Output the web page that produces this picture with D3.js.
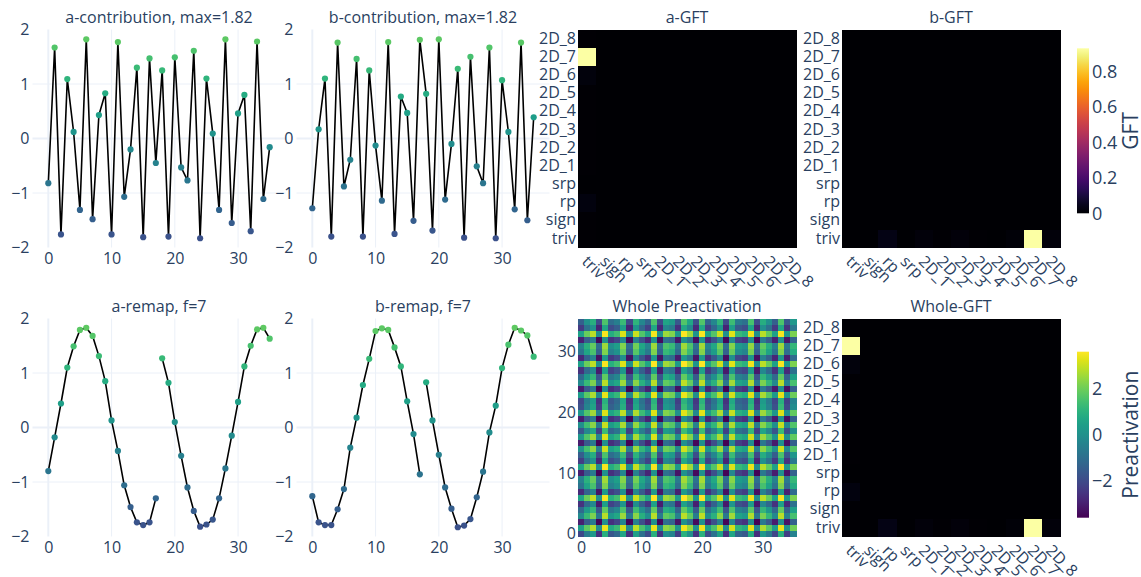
<!DOCTYPE html>
<html>
<head>
<meta charset="utf-8">
<script src="https://cdn.jsdelivr.net/npm/d3@7"></script>
<style>
	body { margin: 0; background: #fff; }
	text { font-family: "Open Sans", sans-serif; }
</style>
</head>
<body>
<svg id="chart" width="1141" height="577"></svg>
<script>

// values
var aContrib = [-0.82, 1.67, -1.76, 1.09, 0.12, -1.31, 1.82, -1.48, 0.43, 0.83, -1.76, 1.77,
	-1.07, -0.20, 1.30, -1.81, 1.47, -0.45, 1.25, -1.80, 1.49, -0.53, -0.77, 1.61,
	-1.83, 1.10, 0.09, -1.31, 1.82, -1.55, 0.46, 0.80, -1.70, 1.78, -1.11, -0.16];

var bContrib = [-1.28, 0.17, 1.10, -1.80, 1.76, -0.88, -0.39, 1.46, -1.80, 1.25, -0.13, -1.14,
	1.77, -1.75, 0.77, 0.47, -1.51, 1.81, 0.82, -1.69, 1.82, -1.12, -0.10, 1.28,
	-1.82, 1.50, -0.51, -0.82, 1.67, -1.83, 1.07, 0.12, -1.30, 1.76, -1.50, 0.39];

var aRemap = [-0.80, -0.18, 0.44, 1.10, 1.49, 1.79, 1.83, 1.68, 1.31, 0.85, 0.13, -0.43,
	-1.06, -1.46, -1.74, -1.79, -1.74, -1.30, 1.27, 0.82, 0.10, -0.52, -1.10, -1.53,
	-1.82, -1.78, -1.69, -1.30, -0.75, -0.15, 0.47, 1.12, 1.50, 1.80, 1.83, 1.63];

var bRemap = [-1.26, -1.74, -1.79, -1.79, -1.50, -1.13, -0.37, 0.18, 0.78, 1.26, 1.77, 1.82,
	1.79, 1.47, 1.12, 0.48, -0.12, -0.86, 0.83, 0.13, -0.50, -1.10, -1.49, -1.83,
	-1.80, -1.68, -1.28, -0.81, -0.09, 0.40, 1.09, 1.52, 1.83, 1.78, 1.69, 1.30];

// the remapped series is split in two pieces at this index
var remapBreak = 18;

var irreps = ['triv', 'sign', 'rp', 'srp', '2D_1', '2D_2', '2D_3', '2D_4', '2D_5', '2D_6', '2D_7', '2D_8'];

// GFT: a-GFT only has a 'triv' column, b-GFT only a 'triv' row
var aGftTriv = [0.005, 0.004, 0.025, 0.003, 0.004, 0.004, 0.005, 0.005, 0.004, 0.02, 0.93, 0.006];
var bGftTriv = [0.003, 0.002, 0.035, 0.003, 0.018, 0.004, 0.015, 0.004, 0.003, 0.012, 0.93, 0.018];
var wholeGftCol = [0.004, 0.004, 0.025, 0.003, 0.004, 0.004, 0.005, 0.005, 0.004, 0.02, 0.93, 0.006];
var wholeGftRow = [0.004, 0.002, 0.035, 0.003, 0.018, 0.004, 0.015, 0.004, 0.003, 0.012, 0.93, 0.018];

var gftTicks = [0, 0.2, 0.4, 0.6, 0.8];
var preTicks = [-2, 0, 2];
var lineXTicks = [0, 10, 20, 30];
var lineYTicks = [-2, -1, 0, 1, 2];

var svg = d3.select('#chart');

var fontColor = '#2a3f5f';
var gridColor = '#ebf0f8';

var colLeft = [32.5, 296.5, 560.5, 824.5];
var colW = 253;
var rowTop = [29.5, 318.5];
var rowH = 218;

var preColor = d3.scaleSequential(d3.interpolateViridis).domain([-3.64, 3.64]);
var gftColor = d3.scaleSequential(d3.interpolateInferno).domain([0, 0.93]);

var fmt = d3.format('~g');

var subTitle = function (cx, top, txt) {
	svg.append('text')
		.attr('x', cx)
		.attr('y', top - 7)
		.attr('text-anchor', 'middle')
		.attr('font-size', 16)
		.attr('fill', fontColor)
		.text(txt);
}

var styleAxis = function (g, size) {
	g.select('.domain').remove();
	g.attr('font-size', size)
		.attr('font-family', '"Open Sans", sans-serif')
		.style('color', fontColor);
}

var linePanel = function (col, row, values, name, split) {
	var x0 = colLeft[col], y0 = rowTop[row];
	var x = d3.scaleLinear().domain([-2.5, 37.5]).range([x0, x0 + colW]);
	var y = d3.scaleLinear().domain([-2, 2]).range([y0 + rowH, y0]);
	var g = svg.append('g');

	g.selectAll('line.gx')
		.data(lineXTicks)
		.enter()
		.append('line')
		.attr('x1', function (d) { return x(d); })
		.attr('x2', function (d) { return x(d); })
		.attr('y1', y0)
		.attr('y2', y0 + rowH)
		.attr('stroke', gridColor)
		.attr('stroke-width', function (d) { return d === 0 ? 2 : 1; });

	g.selectAll('line.gy')
		.data(lineYTicks.filter(function (d) { return d > -2 && d < 2; }))
		.enter()
		.append('line')
		.attr('x1', x0)
		.attr('x2', x0 + colW)
		.attr('y1', function (d) { return y(d); })
		.attr('y2', function (d) { return y(d); })
		.attr('stroke', gridColor)
		.attr('stroke-width', function (d) { return d === 0 ? 2 : 1; });

	var pts = values.map(function (v, i) { return { i: i, v: v }; });
	var pieces = split ? [pts.slice(0, split), pts.slice(split)] : [pts];

	var line = d3.line()
		.x(function (d) { return x(d.i); })
		.y(function (d) { return y(d.v); });

	g.selectAll('path.trace')
		.data(pieces)
		.enter()
		.append('path')
		.attr('d', line)
		.attr('fill', 'none')
		.attr('stroke', '#000')
		.attr('stroke-width', 1.6);

	g.selectAll('circle')
		.data(pts)
		.enter()
		.append('circle')
		.attr('cx', function (d) { return x(d.i); })
		.attr('cy', function (d) { return y(d.v); })
		.attr('r', 3.1)
		.attr('fill', function (d) { return preColor(d.v); });

	var ax = g.append('g')
		.attr('transform', 'translate(0,' + (y0 + rowH) + ')')
		.call(d3.axisBottom(x).tickValues(lineXTicks).tickSize(0).tickPadding(5).tickFormat(fmt));
	styleAxis(ax, 16);

	var ay = g.append('g')
		.attr('transform', 'translate(' + x0 + ',0)')
		.call(d3.axisLeft(y).tickValues(lineYTicks).tickSize(0).tickPadding(3).tickFormat(fmt));
	styleAxis(ay, 16);

	subTitle(x0 + colW / 2, y0, name);
}

var gftPanel = function (col, row, matrix, name) {
	var x0 = colLeft[col] + (colW - rowH) / 2, y0 = rowTop[row];
	var x = d3.scaleBand().domain(irreps).range([x0, x0 + rowH]);
	var y = d3.scaleBand().domain(irreps).range([y0 + rowH, y0]);
	var g = svg.append('g');

	var cells = [];
	matrix.forEach(function (r, i) {
		r.forEach(function (v, j) { cells.push({ row: irreps[i], col: irreps[j], v: v }); });
	});

	g.selectAll('rect')
		.data(cells)
		.enter()
		.append('rect')
		.attr('x', function (d) { return x(d.col); })
		.attr('y', function (d) { return y(d.row); })
		.attr('width', x.bandwidth() + 0.5)
		.attr('height', y.bandwidth() + 0.5)
		.attr('shape-rendering', 'crispEdges')
		.attr('fill', function (d) { return gftColor(d.v); });

	var ax = g.append('g')
		.attr('transform', 'translate(0,' + (y0 + rowH) + ')')
		.call(d3.axisBottom(x).tickSize(0));
	styleAxis(ax, 16);
	ax.selectAll('text')
		.attr('x', 0)
		.attr('y', 0)
		.attr('dy', '0.35em')
		.attr('text-anchor', 'start')
		.attr('transform', 'translate(-2,11) rotate(45)');

	var ay = g.append('g')
		.attr('transform', 'translate(' + x0 + ',0)')
		.call(d3.axisLeft(y).tickSize(0).tickPadding(2));
	styleAxis(ay, 16);

	subTitle(x0 + rowH / 2, y0, name);
}

var prePanel = function (col, row, name) {
	var x0 = colLeft[col] + (colW - rowH) / 2, y0 = rowTop[row];
	var n = aContrib.length;
	var x = d3.scaleLinear().domain([-0.5, n - 0.5]).range([x0, x0 + rowH]);
	var y = d3.scaleLinear().domain([-0.5, n - 0.5]).range([y0 + rowH, y0]);
	var g = svg.append('g');

	// whole preactivation = a contribution (row) + b contribution (column)
	var cells = [];
	aContrib.forEach(function (a, i) {
		bContrib.forEach(function (b, j) { cells.push({ i: i, j: j, v: a + b }); });
	});

	g.selectAll('rect')
		.data(cells)
		.enter()
		.append('rect')
		.attr('x', function (d) { return x(d.j - 0.5); })
		.attr('y', function (d) { return y(d.i + 0.5); })
		.attr('width', x(1) - x(0) + 0.5)
		.attr('height', y(0) - y(1) + 0.5)
		.attr('shape-rendering', 'crispEdges')
		.attr('fill', function (d) { return preColor(d.v); });

	var ax = g.append('g')
		.attr('transform', 'translate(0,' + (y0 + rowH) + ')')
		.call(d3.axisBottom(x).tickValues(lineXTicks).tickSize(0).tickPadding(5));
	styleAxis(ax, 16);

	var ay = g.append('g')
		.attr('transform', 'translate(' + x0 + ',0)')
		.call(d3.axisLeft(y).tickValues(lineXTicks).tickSize(0).tickPadding(2));
	styleAxis(ay, 16);

	subTitle(x0 + rowH / 2, y0, name);
}

var colorBar = function (id, interp, domain, top, bottom, ticks, label) {
	var bx = 1077, bw = 12;
	var defs = svg.append('defs');
	var grad = defs.append('linearGradient')
		.attr('id', id)
		.attr('x1', 0).attr('y1', 1).attr('x2', 0).attr('y2', 0);
	d3.range(0, 1.0001, 0.05).forEach(function (t) {
		grad.append('stop').attr('offset', t).attr('stop-color', interp(t));
	});
	svg.append('rect')
		.attr('x', bx)
		.attr('y', top)
		.attr('width', bw)
		.attr('height', bottom - top)
		.attr('fill', 'url(#' + id + ')');

	var s = d3.scaleLinear().domain(domain).range([bottom, top]);
	var ax = svg.append('g')
		.attr('transform', 'translate(' + (bx + bw) + ',0)')
		.call(d3.axisRight(s).tickValues(ticks).tickSize(0).tickPadding(3).tickFormat(fmt));
	styleAxis(ax, 18);

	svg.append('text')
		.attr('transform', 'translate(1131,' + ((top + bottom) / 2) + ') rotate(-90)')
		.attr('text-anchor', 'middle')
		.attr('dy', '0.35em')
		.attr('font-size', 21)
		.attr('fill', fontColor)
		.text(label);
}

var aGft = irreps.map(function (r, i) {
	return irreps.map(function (c, j) { return j === 0 ? aGftTriv[i] : 0; });
});
var bGft = irreps.map(function (r, i) {
	return irreps.map(function (c, j) { return i === 0 ? bGftTriv[j] : 0; });
});
var wholeGft = irreps.map(function (r, i) {
	return irreps.map(function (c, j) {
		if (j === 0) return wholeGftCol[i];
		if (i === 0) return wholeGftRow[j];
		return 0;
	});
});

linePanel(0, 0, aContrib, 'a-contribution, max=1.82');
linePanel(1, 0, bContrib, 'b-contribution, max=1.82');
linePanel(0, 1, aRemap, 'a-remap, f=7', remapBreak);
linePanel(1, 1, bRemap, 'b-remap, f=7', remapBreak);

gftPanel(2, 0, aGft, 'a-GFT');
gftPanel(3, 0, bGft, 'b-GFT');
prePanel(2, 1, 'Whole Preactivation');
gftPanel(3, 1, wholeGft, 'Whole-GFT');

colorBar('gftGrad', d3.interpolateInferno, [0, 0.93], 48.3, 213.3, gftTicks, 'GFT');
colorBar('preGrad', d3.interpolateViridis, [-3.64, 3.64], 351.7, 517.7, preTicks, 'Preactivation');

</script>
</body>
</html>
